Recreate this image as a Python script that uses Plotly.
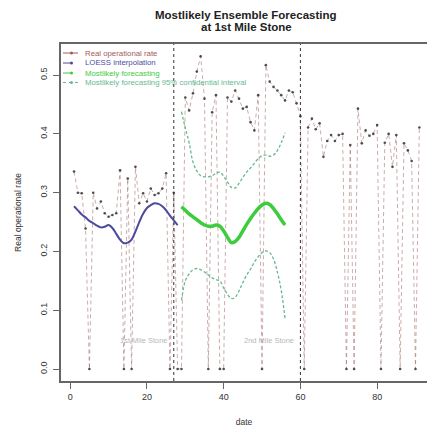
import plotly.graph_objects as go

# ---------------- data ----------------
days = list(range(1, 92))
rate = [0.336, 0.300, 0.299, 0.239, 0.0, 0.300, 0.273, 0.285, 0.265, 0.259,
        0.262, 0.265, 0.338, 0.0, 0.324, 0.0, 0.344, 0.282, 0.299, 0.285,
        0.307, 0.296, 0.299, 0.307, 0.333, 0.0, 0.300, 0.0, 0.0, 0.462,
        0.440, 0.469, 0.506, 0.532, 0.460, 0.0, 0.437, 0.466, 0.0, 0.0,
        0.462, 0.455, 0.474, 0.460, 0.443, 0.446, 0.420, 0.406, 0.466, 0.0,
        0.517, 0.489, 0.480, 0.474, 0.466, 0.457, 0.474, 0.471, 0.452, 0.430,
        0.0, 0.411, 0.426, 0.408, 0.418, 0.361, 0.388, 0.398, 0.388, 0.398,
        0.400, 0.0, 0.381, 0.0, 0.443, 0.384, 0.406, 0.397, 0.400, 0.415,
        0.0, 0.385, 0.400, 0.344, 0.398, 0.0, 0.384, 0.372, 0.354, 0.0,
        0.411]

loess_days = list(range(1, 29))
loess_vals = [0.277, 0.270, 0.263, 0.258, 0.252, 0.248, 0.244, 0.241, 0.242, 0.245,
              0.240, 0.230, 0.220, 0.214, 0.215, 0.220, 0.234, 0.250, 0.264, 0.274,
              0.279, 0.282, 0.281, 0.277, 0.270, 0.261, 0.253, 0.245]

fc_days = list(range(29, 57))
fc_vals = [0.276, 0.270, 0.264, 0.259, 0.254, 0.249, 0.245, 0.243, 0.243, 0.245,
           0.243, 0.235, 0.224, 0.215, 0.217, 0.224, 0.235, 0.246, 0.256, 0.265,
           0.273, 0.279, 0.282, 0.280, 0.273, 0.264, 0.254, 0.245]
fc_upper = [0.438, 0.410, 0.385, 0.352, 0.337, 0.329, 0.327, 0.327, 0.329, 0.333,
            0.335, 0.328, 0.318, 0.309, 0.308, 0.316, 0.326, 0.335, 0.342, 0.350,
            0.358, 0.363, 0.364, 0.362, 0.364, 0.372, 0.385, 0.402]
fc_lower = [0.117, 0.150, 0.162, 0.169, 0.171, 0.169, 0.165, 0.160, 0.155, 0.152,
            0.150, 0.138, 0.127, 0.120, 0.122, 0.133, 0.147, 0.160, 0.170, 0.182,
            0.191, 0.198, 0.201, 0.198, 0.187, 0.165, 0.134, 0.086]

milestones = [27, 60]
milestone_labels = ["1st Mile Stone", "2nd Mile Stone"]
x_ticks = [0, 20, 40, 60, 80]
y_ticks = [0.0, 0.1, 0.2, 0.3, 0.4, 0.5]

legend_names = ["Real operational rate", "LOESS interpolation",
                "Mostlikely forecasting",
                "Mostlikely forecasting 95% confidential interval"]

# ---------------- styles ----------------
C_REAL = "#a25a5a"
C_LOESS = "#4b4b9e"
C_FC = "#3dcc3d"
C_CI = "#66b98f"
FONT = "Liberation Sans"

W, H = 427, 428
ML, MR, MT, MB = 61, 0, 44, 47

fig = go.Figure()

fig.add_trace(go.Scatter(
    x=days, y=rate, mode="lines+markers",
    line=dict(color="rgba(150,85,85,0.55)", width=0.9, dash="4px,3px"),
    marker=dict(color="#4d4d4d", size=2.6),
    showlegend=False))

fig.add_trace(go.Scatter(
    x=loess_days, y=loess_vals, mode="lines", line_shape="spline",
    line=dict(color=C_LOESS, width=2), showlegend=False))

fig.add_trace(go.Scatter(
    x=fc_days, y=fc_upper, mode="lines", line_shape="spline",
    line=dict(color=C_CI, width=1.3, dash="3px,2px"), showlegend=False))
fig.add_trace(go.Scatter(
    x=fc_days, y=fc_lower, mode="lines", line_shape="spline",
    line=dict(color=C_CI, width=1.3, dash="3px,2px"), showlegend=False))

fig.add_trace(go.Scatter(
    x=fc_days, y=fc_vals, mode="lines", line_shape="spline",
    line=dict(color=C_FC, width=3.5), showlegend=False))

shapes = []
annotations = []

for m, lab in zip(milestones, milestone_labels):
    shapes.append(dict(type="line", xref="x", yref="paper", x0=m, x1=m, y0=0, y1=1,
                       line=dict(color="#333333", width=1, dash="dot")))
    annotations.append(dict(x=m, y=0.048, xref="x", yref="y", text=lab,
                            showarrow=False, xanchor="right", xshift=-4,
                            font=dict(family=FONT, size=7.5, color="#b8b8b8")))

# legend (drawn manually, tight R-like spacing)
plot_w = W - ML - MR
plot_h = H - MT - MB


def px_x(px):
    return (px - ML) / plot_w


def px_y(py):
    return (H - MB - py) / plot_h


leg_cols = [C_REAL, C_LOESS, C_FC, C_CI]
leg_dash = ["solid", "dash", "dash", "dot"]
leg_y = [53, 63, 73, 82.5]
for name, col, d, py in zip(legend_names, leg_cols, leg_dash, leg_y):
    shapes.append(dict(type="line", xref="paper", yref="paper",
                       x0=px_x(63), x1=px_x(78), y0=px_y(py), y1=px_y(py),
                       line=dict(color=col, width=1, dash=d)))
    shapes.append(dict(type="circle", xref="paper", yref="paper",
                       x0=px_x(70), x1=px_x(73), y0=px_y(py + 1.5), y1=px_y(py - 1.5),
                       fillcolor=col, line=dict(width=0)))
    annotations.append(dict(x=px_x(83), y=px_y(py), xref="paper", yref="paper",
                            text=name, showarrow=False, xanchor="left", yanchor="middle",
                            font=dict(family=FONT, size=7.8, color=col)))

# title (two lines, R style)
annotations.append(dict(x=px_x(246), y=px_y(15), xref="paper", yref="paper",
                        text="<b>Mostlikely Ensemble Forecasting</b>", showarrow=False,
                        xanchor="center", yanchor="middle",
                        font=dict(family=FONT, size=11.5, color="#222222")))
annotations.append(dict(x=px_x(246), y=px_y(27), xref="paper", yref="paper",
                        text="<b>at 1st Mile Stone</b>", showarrow=False,
                        xanchor="center", yanchor="middle",
                        font=dict(family=FONT, size=11.5, color="#222222")))

fig.update_layout(
    width=W, height=H,
    margin=dict(l=ML, r=MR, t=MT, b=MB, pad=0, autoexpand=False),
    paper_bgcolor="white", plot_bgcolor="white",
    shapes=shapes, annotations=annotations,
    font=dict(family=FONT, color="#333333"),
    xaxis=dict(range=[-2.4, 93.0], tickvals=x_ticks, ticks="outside", ticklen=6,
               tickcolor="#666666", showline=True, linecolor="#666666", linewidth=1.5,
               mirror=True, showgrid=False, zeroline=False, automargin=False,
               tickfont=dict(family=FONT, size=9, color="#333333"),
               title=dict(text="date", font=dict(family=FONT, size=8.5, color="#333333"),
                          standoff=19)),
    yaxis=dict(range=[-0.0204, 0.553], tickvals=y_ticks,
               ticktext=[f"{v:.1f}" for v in y_ticks], tickangle=-90,
               ticks="outside", ticklen=6, tickcolor="#666666",
               showline=True, linecolor="#666666", linewidth=1.5,
               showgrid=False, zeroline=False, automargin=False,
               ticklabelstandoff=3,
               tickfont=dict(family=FONT, size=9, color="#333333"),
               title=dict(text="Real operational rate",
                          font=dict(family=FONT, size=8.5, color="#333333"),
                          standoff=16)),
)

fig.write_html("out.html",
               config={"displayModeBar": False},
               post_script="document.body.style.margin='0px';"
                           "document.body.style.padding='0px';")
